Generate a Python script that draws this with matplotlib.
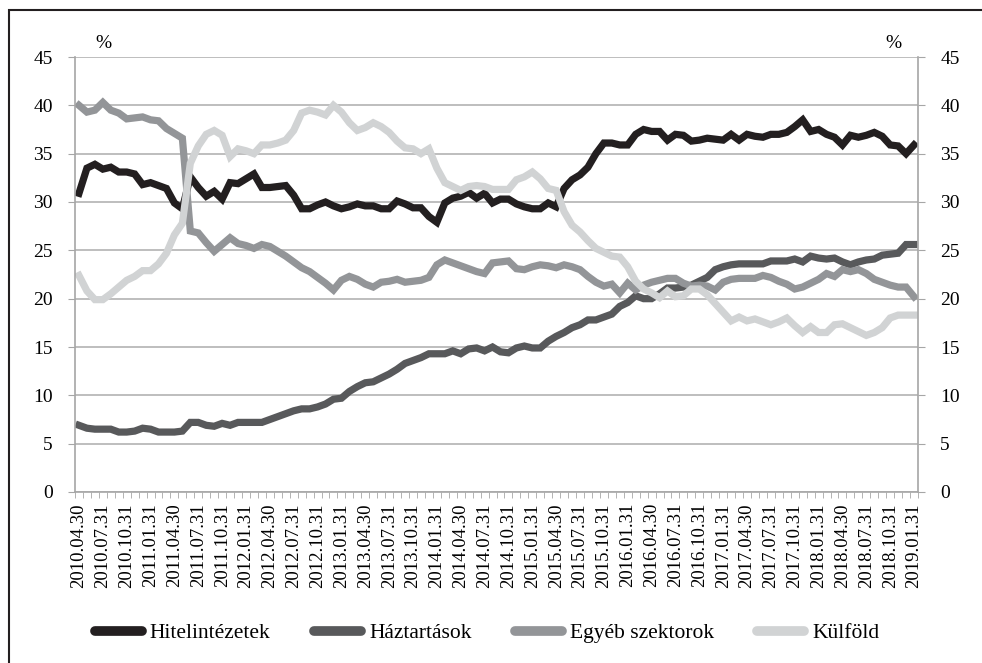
import matplotlib.pyplot as plt
from matplotlib.patches import Rectangle
from matplotlib.lines import Line2D

plt.rcParams['font.family'] = ['Liberation Serif', 'DejaVu Serif']

# havi adatok 2010.04.30 - 2019.01.31
months = []
for y in range(2010, 2020):
    for m in range(1, 13):
        if (y == 2010 and m < 4) or (y == 2019 and m > 1):
            continue
        months.append((y, m))
month_ends = {1: 31, 2: 28, 3: 31, 4: 30, 5: 31, 6: 30, 7: 31, 8: 31, 9: 30, 10: 31, 11: 30, 12: 31}
labels = ['%d.%02d.%02d' % (y, m, month_ends[m]) for y, m in months]

hitel = [30.9, 33.5, 33.9, 33.4, 33.6, 33.1, 33.1, 32.9, 31.8, 32.0,
         31.7, 31.4, 29.9, 29.3, 32.6, 31.5, 30.6, 31.1, 30.3, 32.0,
         31.9, 32.4, 32.9, 31.5, 31.5, 31.6, 31.7, 30.7, 29.3, 29.3,
         29.7, 30.0, 29.6, 29.3, 29.5, 29.8, 29.6, 29.6, 29.3, 29.3,
         30.1, 29.8, 29.4, 29.4, 28.5, 27.9, 29.9, 30.4, 30.6, 31.0,
         30.4, 30.9, 29.9, 30.3, 30.3, 29.8, 29.5, 29.3, 29.3, 29.9,
         29.5, 31.4, 32.3, 32.8, 33.6, 35.0, 36.1, 36.1, 35.9, 35.9,
         37.0, 37.5, 37.3, 37.3, 36.4, 37.0, 36.9, 36.3, 36.4, 36.6,
         36.5, 36.4, 37.0, 36.4, 37.0, 36.8, 36.7, 37.0, 37.0, 37.2,
         37.8, 38.5, 37.3, 37.5, 37.0, 36.7, 35.9, 36.9, 36.7, 36.9,
         37.2, 36.8, 35.9, 35.8, 35.0, 35.9]

haztart = [6.9, 6.6, 6.5, 6.5, 6.5, 6.2, 6.2, 6.3, 6.6, 6.5,
           6.2, 6.2, 6.2, 6.3, 7.2, 7.2, 6.9, 6.8, 7.1, 6.9,
           7.2, 7.2, 7.2, 7.2, 7.5, 7.8, 8.1, 8.4, 8.6, 8.6,
           8.8, 9.1, 9.6, 9.7, 10.4, 10.9, 11.3, 11.4, 11.8, 12.2,
           12.7, 13.3, 13.6, 13.9, 14.3, 14.3, 14.3, 14.6, 14.3, 14.8,
           14.9, 14.6, 15.0, 14.5, 14.4, 14.9, 15.1, 14.9, 14.9, 15.6,
           16.1, 16.5, 17.0, 17.3, 17.8, 17.8, 18.1, 18.4, 19.2, 19.6,
           20.3, 20.0, 20.0, 20.5, 21.1, 21.1, 21.2, 21.4, 21.8, 22.2,
           23.0, 23.3, 23.5, 23.6, 23.6, 23.6, 23.6, 23.9, 23.9, 23.9,
           24.1, 23.8, 24.4, 24.2, 24.1, 24.2, 23.8, 23.5, 23.8, 24.0,
           24.1, 24.5, 24.6, 24.7, 25.6, 25.6]

egyeb = [40.0, 39.3, 39.5, 40.3, 39.5, 39.2, 38.6, 38.7, 38.8, 38.5,
         38.4, 37.6, 37.1, 36.6, 27.0, 26.8, 25.8, 24.9, 25.6, 26.3,
         25.7, 25.5, 25.2, 25.6, 25.4, 24.9, 24.4, 23.8, 23.2, 22.8,
         22.2, 21.6, 20.9, 21.9, 22.3, 22.0, 21.5, 21.2, 21.7, 21.8,
         22.0, 21.7, 21.8, 21.9, 22.2, 23.5, 24.0, 23.7, 23.4, 23.1,
         22.8, 22.6, 23.7, 23.8, 23.9, 23.1, 23.0, 23.3, 23.5, 23.4,
         23.2, 23.5, 23.3, 23.0, 22.3, 21.7, 21.3, 21.5, 20.6, 21.6,
         20.9, 21.4, 21.7, 21.9, 22.1, 22.1, 21.6, 21.3, 21.4, 21.3,
         20.9, 21.7, 22.0, 22.1, 22.1, 22.1, 22.4, 22.2, 21.8, 21.5,
         21.0, 21.2, 21.6, 22.0, 22.6, 22.3, 23.0, 22.8, 23.0, 22.6,
         22.0, 21.7, 21.4, 21.2, 21.2, 20.2]

kulfold = [22.4, 20.8, 19.9, 19.9, 20.5, 21.2, 21.9, 22.3, 22.9, 22.9,
           23.6, 24.7, 26.6, 27.8, 34.0, 35.8, 37.0, 37.4, 36.9, 34.7,
           35.5, 35.3, 35.0, 35.9, 35.9, 36.1, 36.4, 37.4, 39.2, 39.5,
           39.3, 39.0, 40.0, 39.3, 38.2, 37.4, 37.7, 38.2, 37.8, 37.2,
           36.3, 35.6, 35.5, 35.0, 35.5, 33.5, 32.0, 31.6, 31.2, 31.6,
           31.7, 31.6, 31.3, 31.3, 31.3, 32.3, 32.6, 33.1, 32.4, 31.4,
           31.2, 29.0, 27.6, 26.9, 26.0, 25.2, 24.8, 24.4, 24.3, 23.3,
           21.8, 21.0, 20.6, 20.1, 20.8, 20.2, 20.3, 21.0, 21.0, 20.4,
           19.5, 18.6, 17.7, 18.1, 17.7, 17.9, 17.6, 17.3, 17.6, 18.0,
           17.2, 16.5, 17.1, 16.5, 16.5, 17.3, 17.4, 17.0, 16.6, 16.2,
           16.5, 17.0, 18.0, 18.3, 18.3, 18.3]

series = [('Hitelintézetek', hitel, '#231f20'),
          ('Háztartások', haztart, '#58595b'),
          ('Egyéb szektorok', egyeb, '#939598'),
          ('Külföld', kulfold, '#d1d3d4')]

fig = plt.figure(figsize=(9.82, 6.63), dpi=100)
ax = fig.add_axes([75 / 982, 1 - 492 / 663, 843 / 982, 435 / 663])

x = list(range(len(labels)))
for name, vals, col in series:
    ax.plot(x, vals, color=col, lw=5.2, solid_joinstyle='miter', label=name)

ax.set_xlim(-0.5, len(labels) - 0.5)
ax.set_ylim(0, 45)
ax.set_yticks(range(0, 50, 5))
ax.grid(axis='y', color='#b3b3b3', lw=1.2)
ax.set_axisbelow(True)

ax.set_xticks(x[::3])
ax.set_xticklabels(labels[::3], rotation=90, fontsize=13.5)
ax.set_xticks([i - 0.5 for i in range(len(labels) + 1)], minor=True)
ax.tick_params(axis='x', which='both', length=0, pad=8)
ax.tick_params(axis='x', which='minor', length=4, color='#a6a6a6', direction='out')
ax.tick_params(axis='y', length=5, color='#a6a6a6', labelsize=14, pad=11,
               right=True, labelright=True)

for s in ['left', 'right', 'bottom']:
    ax.spines[s].set_color('#a6a6a6')
    ax.spines[s].set_linewidth(1.2)
ax.spines['top'].set_visible(False)

fig.text(103 / 982, 1 - 44 / 663, '%', fontsize=14, ha='center', va='center')
fig.text(893 / 982, 1 - 44 / 663, '%', fontsize=14, ha='center', va='center')

handles = [Line2D([0], [0], color=c, lw=7, solid_capstyle='round') for _, _, c in series]
fig.legend(handles, [s[0] for s in series], loc='center', ncol=4,
           bbox_to_anchor=(0.496, 1 - 633 / 663), frameon=False, fontsize=15.5,
           handlelength=2.2, handletextpad=0.37, columnspacing=2.0,
           borderpad=0, borderaxespad=0)

# keret
fig.patches.append(Rectangle((9 / 982, -0.1), 1.2, 1 - 10 / 663 + 0.1,
                             transform=fig.transFigure, fill=False,
                             edgecolor='#231f20', lw=1.5))

fig.savefig('out.png', dpi=100)
